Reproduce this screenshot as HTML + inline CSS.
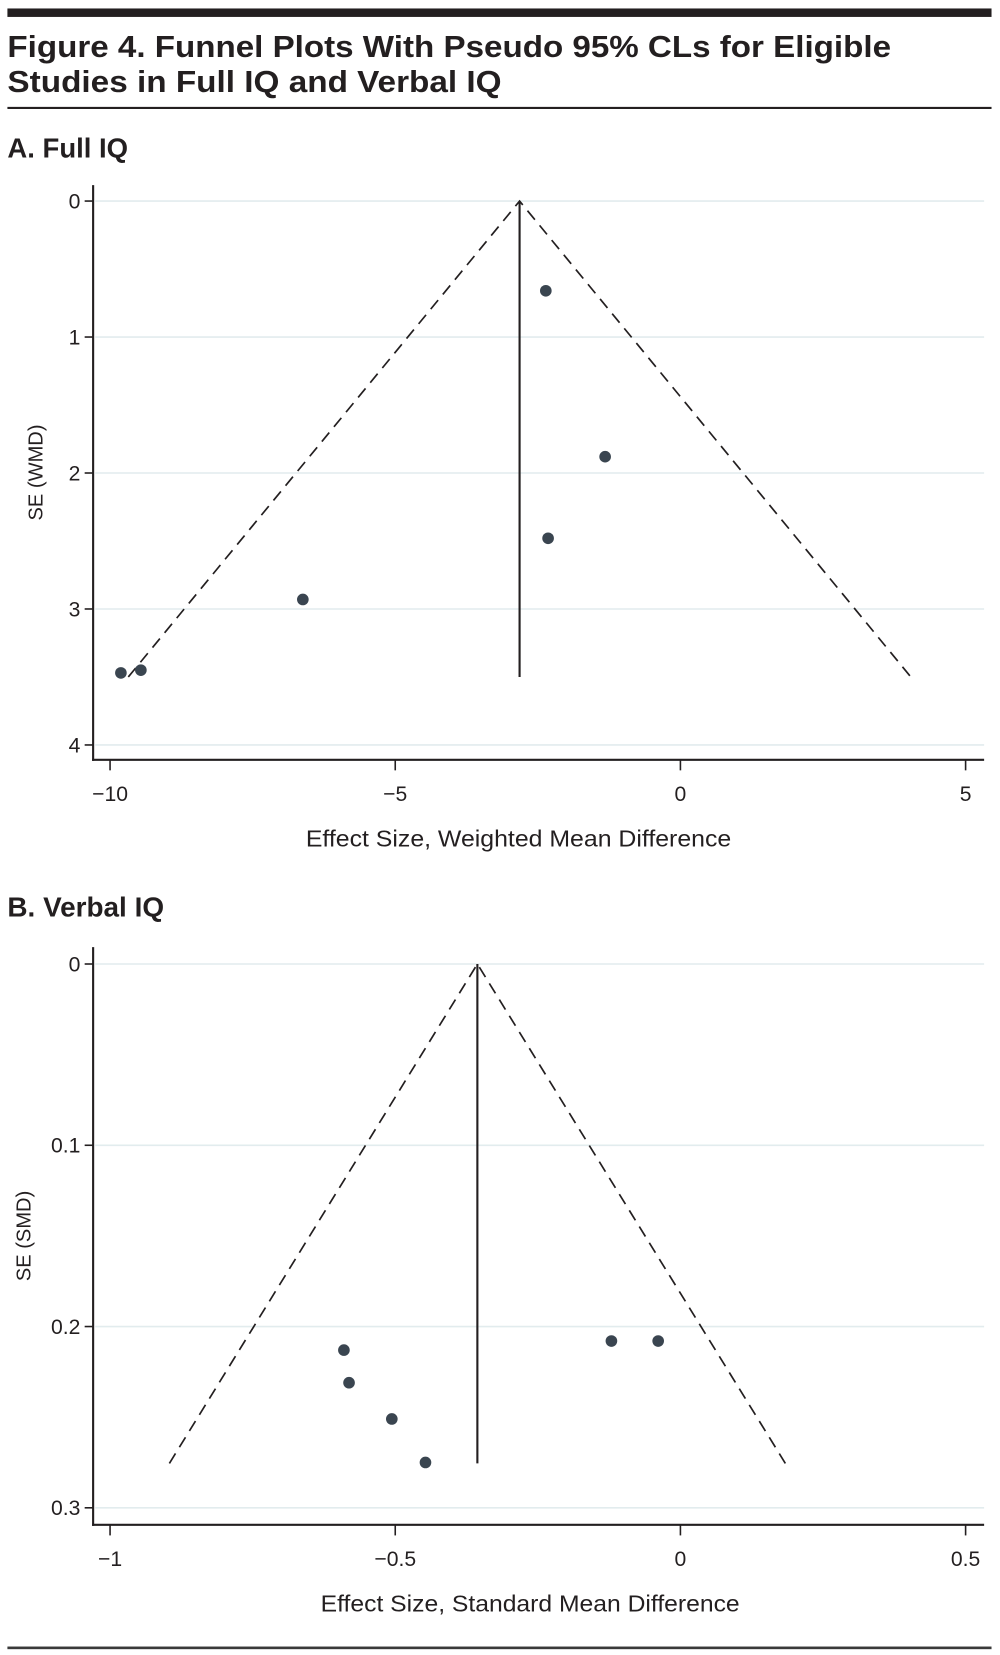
<!DOCTYPE html>
<html><head><meta charset="utf-8">
<style>
html,body{margin:0;padding:0;background:#fff;}
svg{display:block;}
text{font-family:"Liberation Sans",sans-serif;fill:#231f20;}
</style></head>
<body>
<svg id="fig" width="1000" height="1655" viewBox="0 0 945 1564" xmlns="http://www.w3.org/2000/svg">
<rect x="7" y="8" width="930" height="8" fill="#231f20"/>
<text x="7" y="54" font-size="29" font-weight="bold" textLength="835" lengthAdjust="spacingAndGlyphs">Figure 4. Funnel Plots With Pseudo 95% CLs for Eligible</text>
<text x="7" y="87" font-size="29" font-weight="bold" textLength="467" lengthAdjust="spacingAndGlyphs">Studies in Full IQ and Verbal IQ</text>
<rect x="7" y="101" width="930" height="2" fill="#231f20"/>
<text x="7" y="149" font-size="26" font-weight="bold" textLength="114" lengthAdjust="spacingAndGlyphs">A. Full IQ</text>
<text x="7" y="866" font-size="26" font-weight="bold" textLength="148" lengthAdjust="spacingAndGlyphs">B. Verbal IQ</text>
<rect x="7" y="1556" width="930" height="2.5" fill="#3a3a3a"/>
<g id="pa"></g>
<g id="pb"></g>
</svg>
<script>
// Panel A data
const aXTicks = [-10, -5, 0, 5];
const aXTickLabels = ["\u221210", "\u22125", "0", "5"];
const aYTicks = [0, 1, 2, 3, 4];
const aYTickLabels = ["0", "1", "2", "3", "4"];
const aEffect = [-2.36, -1.32, -2.32, -6.62, -9.46, -9.81];
const aSE = [0.66, 1.88, 2.48, 2.93, 3.45, 3.47];
const aPooled = -2.82;
const aMaxSE = 3.5;
// Panel B data
const bXTicks = [-1, -0.5, 0, 0.5];
const bXTickLabels = ["\u22121", "\u22120.5", "0", "0.5"];
const bYTicks = [0, 0.1, 0.2, 0.3];
const bYTickLabels = ["0", "0.1", "0.2", "0.3"];
const bEffect = [-0.59, -0.581, -0.506, -0.447, -0.121, -0.039];
const bSE = [0.213, 0.231, 0.251, 0.275, 0.208, 0.208];
const bPooled = -0.356;
const bMaxSE = 0.2755;

const NS = "http://www.w3.org/2000/svg";
function mk(parent, tag, attrs, txt) {
  const e = document.createElementNS(NS, tag);
  for (const k in attrs) e.setAttribute(k, attrs[k]);
  if (txt !== undefined) e.textContent = txt;
  parent.appendChild(e);
  return e;
}
function panel(g, cfg) {
  const sx = v => cfg.x0 + (v - cfg.xv0) * cfg.xs;
  const sy = v => cfg.y0 + v * cfg.ys;
  // grid + y ticks
  cfg.yTicks.forEach((t, i) => {
    const gl = mk(g, "line", {x1: cfg.left + 2, x2: cfg.right, y1: sy(t), y2: sy(t), stroke: "#e2ecee", "stroke-width": 1.5});
    
    
    const tk = mk(g, "line", {x1: cfg.left - 8, x2: cfg.left, y1: sy(t), y2: sy(t), stroke: "#231f20", "stroke-width": 1.5});
    
    
    const lb = mk(g, "text", {x: cfg.left - 12, y: sy(t) + 7, "font-size": 20, "text-anchor": "end"}, cfg.yLabels[i]);
    
    
  });
  cfg.xTicks.forEach((t, i) => {
    const tk = mk(g, "line", {x1: sx(t), x2: sx(t), y1: cfg.bottom, y2: cfg.bottom + 10, stroke: "#231f20", "stroke-width": 1.5});
    
    
    const lb = mk(g, "text", {x: sx(t), y: cfg.bottom + 39, "font-size": 20, "text-anchor": "middle"}, cfg.xLabels[i]);
    
    
  });
  const ya = mk(g, "line", {x1: cfg.left, x2: cfg.left, y1: cfg.top, y2: cfg.bottom + 1, stroke: "#231f20", "stroke-width": 2});
  
  
  const xa = mk(g, "line", {x1: cfg.left - 1, x2: cfg.right, y1: cfg.bottom, y2: cfg.bottom, stroke: "#231f20", "stroke-width": 2});
  
  
  // funnel
  const hw = 1.96 * cfg.maxSE;
  const f = mk(g, "polyline", {points: `${sx(cfg.pooled - hw)},${sy(cfg.maxSE)} ${sx(cfg.pooled)},${sy(0)} ${sx(cfg.pooled + hw)},${sy(cfg.maxSE)}`, fill: "none", stroke: "#231f20", "stroke-width": 1.6, "stroke-dasharray": "11,7"});
  
  
  const v = mk(g, "line", {x1: sx(cfg.pooled), x2: sx(cfg.pooled), y1: sy(0), y2: sy(cfg.maxSE), stroke: "#231f20", "stroke-width": 2});
  
  
  cfg.eff.forEach((e, i) => {
    const c = mk(g, "circle", {cx: sx(e), cy: sy(cfg.se[i]), r: 5.5, fill: "#3a4550"});
    
    
  });
  const xt = mk(g, "text", {x: cfg.xTitleX, y: cfg.bottom + 82, "font-size": 22, "text-anchor": "middle", textLength: cfg.xTitleLen, lengthAdjust: "spacingAndGlyphs"}, cfg.xTitle);
  
  
  const cy = (cfg.top + cfg.bottom) / 2;
  const yt = mk(g, "text", {x: cfg.yTitleX, y: cy, "font-size": 19, "text-anchor": "middle", transform: `rotate(-90 ${cfg.yTitleX} ${cy})`}, cfg.yTitle);
  
  
}
panel(document.getElementById("pa"), {
  left: 88, right: 930, top: 175, bottom: 718, x0: 643, xv0: 0, xs: 53.9, y0: 190, ys: 128.5,
  xTicks: aXTicks, xLabels: aXTickLabels, yTicks: aYTicks, yLabels: aYTickLabels,
  eff: aEffect, se: aSE, pooled: aPooled, maxSE: aMaxSE,
  xTitle: "Effect Size, Weighted Mean Difference", xTitleX: 490, xTitleLen: 402,
  yTitle: "SE (WMD)", yTitleX: 40
});
panel(document.getElementById("pb"), {
  left: 88, right: 930, top: 895, bottom: 1441, x0: 643, xv0: 0, xs: 539, y0: 911, ys: 1713,
  xTicks: bXTicks, xLabels: bXTickLabels, yTicks: bYTicks, yLabels: bYTickLabels,
  eff: bEffect, se: bSE, pooled: bPooled, maxSE: bMaxSE,
  xTitle: "Effect Size, Standard Mean Difference", xTitleX: 501, xTitleLen: 396,
  yTitle: "SE (SMD)", yTitleX: 29
});
</script>
</body></html>
